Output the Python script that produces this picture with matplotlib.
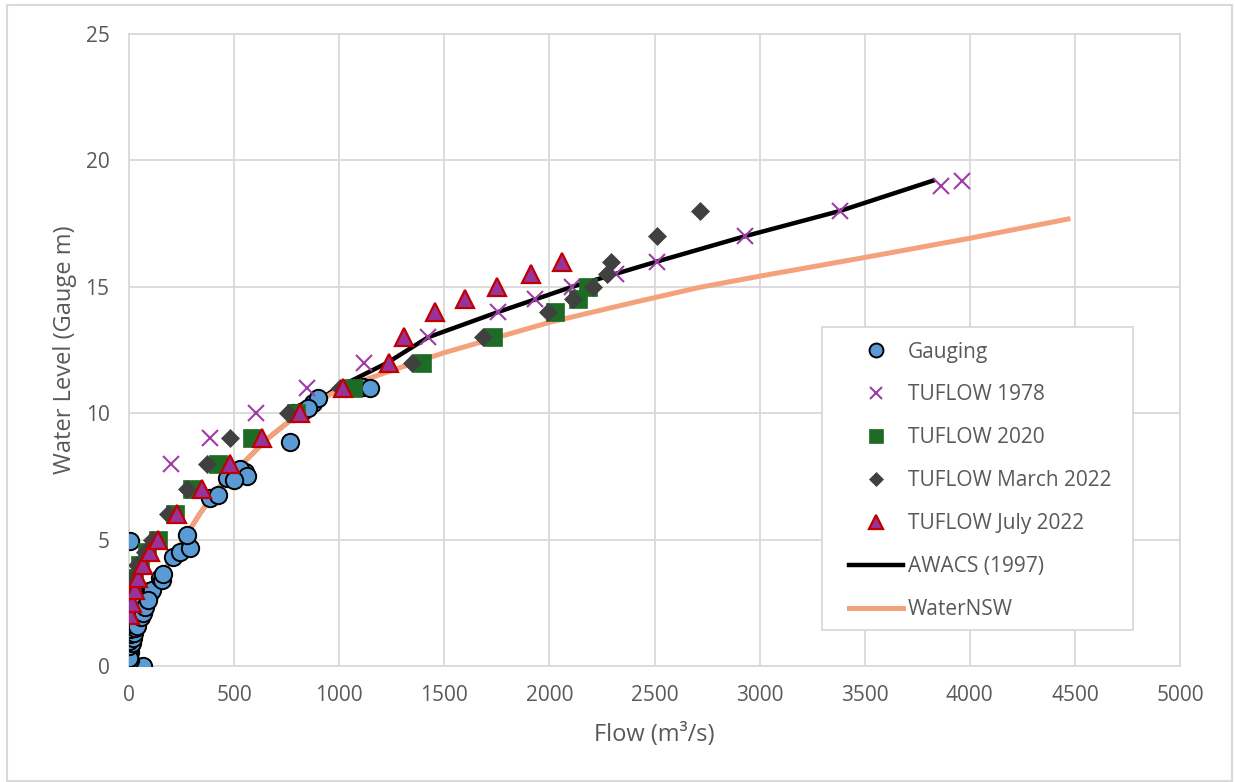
import matplotlib
matplotlib.use("Agg")
import matplotlib.pyplot as plt
from matplotlib.patches import Rectangle

plt.rcParams['font.family'] = ['Open Sans', 'DejaVu Sans']

# ---------------- data ----------------
gauging_flow = [0, 8, 25, 68, 3, 0, 5, 4, 6, 8, 10, 7, 12, 15, 18, 22, 26, 30, 35, 40,
                45, 50, 55, 62, 70, 78, 85, 95, 5,
                0, 2, 14, 0, 20, 3, 25, 5, 30, 8, 38, 12, 45, 15, 52, 20, 60, 28, 70, 35, 80, 45, 100, 110,
                40, 55, 65, 75, 90,
                147, 157, 160, 211, 242, 290, 275,
                385, 424, 465, 512, 553, 530, 560, 500,
                766, 782, 830, 877, 900, 850, 1113, 1147]
gauging_level = [0, 0, 0, 0, 0.25, 0.5, 0.55, 0.75, 0.9, 1.05, 1.2, 1.3, 1.4, 1.5, 1.6, 1.75, 1.85, 1.95, 2.05, 2.15,
                 2.25, 2.35, 2.45, 2.55, 2.65, 2.75, 2.85, 2.95, 4.95,
                 0.3, 0.8, 0.9, 1.0, 1.1, 1.25, 1.3, 1.45, 1.5, 1.65, 1.7, 1.85, 1.9, 2.05, 2.1, 2.25, 2.3, 2.45, 2.5, 2.6, 2.7, 2.75, 2.9, 3.0,
                 1.6, 1.95, 2.1, 2.35, 2.6,
                 3.5, 3.4, 3.65, 4.3, 4.5, 4.65, 5.18,
                 6.64, 6.76, 7.43, 7.55, 7.67, 7.8, 7.5, 7.35,
                 8.87, 10.0, 10.1, 10.4, 10.6, 10.2, 11.04, 11.0]

t1978_flow = [200, 385, 604, 847, 1118, 1422, 1755, 1932, 2108, 2317, 2512, 2930, 3382, 3863, 3963]
t1978_level = [8, 9, 10, 11, 12, 13, 14, 14.5, 15, 15.5, 16, 17, 18, 19, 19.2]

t2020_flow = [10, 22, 50, 85, 140, 220, 300, 425, 585, 795, 1066, 1393, 1733, 2027, 2137, 2184]
t2020_level = [3, 3.5, 4, 4.5, 5, 6, 7, 8, 9, 10, 11, 12, 13, 14, 14.5, 15]

tmar22_flow = [5, 18, 40, 75, 110, 186, 274, 371, 481, 757, 1003, 1345, 1683, 1992, 2112, 2206, 2273, 2293, 2512, 2717]
tmar22_level = [3, 3.5, 4, 4.5, 5, 6, 7, 8, 9, 10, 11, 12, 13, 14, 14.5, 15, 15.5, 16, 17, 18]

tjul22_flow = [5, 14, 29, 43, 67, 100, 138, 228, 347, 481, 631, 813, 1018, 1237, 1308, 1456, 1598, 1750, 1912, 2060]
tjul22_level = [2, 2.5, 3, 3.5, 4, 4.5, 5, 6, 7, 8, 9, 10, 11, 12, 13, 14, 14.5, 15, 15.5, 16]

awacs_flow = [0, 15, 50, 100, 185, 260, 335, 420, 540, 660, 810, 990, 1230, 1422, 1755, 2108, 2512, 2930, 3382, 3825]
awacs_level = [0, 1, 2, 3, 4, 5, 6, 7, 8, 9, 10, 11, 12, 13, 14, 15, 16, 17, 18, 19.2]

wnsw_flow = [0, 15, 50, 100, 185, 260, 335, 420, 540, 660, 810, 1010, 1289, 1494, 2003, 2400, 2716, 3000, 3500, 4000, 4467]
wnsw_level = [0, 1, 2, 3, 4, 5, 6, 7, 8, 9, 10, 11, 11.8, 12.38, 13.6, 14.38, 14.98, 15.42, 16.16, 16.92, 17.68]

x_ticks = [0, 500, 1000, 1500, 2000, 2500, 3000, 3500, 4000, 4500, 5000]
y_ticks = [0, 5, 10, 15, 20, 25]

# ---------------- figure ----------------
W, H = 1235, 782
fig = plt.figure(figsize=(W / 100, H / 100), dpi=100)
fig.patches.append(Rectangle((7 / W, 1 / H), (1232 - 7) / W, (777 - 1) / H,
                             transform=fig.transFigure, fill=False,
                             edgecolor='#D9D9D9', linewidth=1.5))
ax = fig.add_axes([129 / W, 1 - 666 / H, (1180 - 129) / W, (666 - 34) / H])

grid_c = '#D9D9D9'
txt_c = '#595959'

ax.plot(awacs_flow, awacs_level, color='black', lw=3.2, zorder=2, label='AWACS (1997)')
ax.plot(wnsw_flow, wnsw_level, color='#F4A27C', lw=3.6, zorder=2.1, label='WaterNSW')

ax.plot(gauging_flow, gauging_level, ls='none', marker='o', ms=12.5, mfc='#5B9BD5',
        mec='black', mew=1.4, zorder=3, label='Gauging')
ax.plot(t1978_flow, t1978_level, ls='none', marker='x', ms=11, mec='#A03CA8',
        mew=1.5, zorder=4, label='TUFLOW 1978')
ax.plot(t2020_flow, t2020_level, ls='none', marker='s', ms=12.5, mfc='#1E6B26',
        mec='#1E6B26', mew=0.5, zorder=5, label='TUFLOW 2020')
ax.plot(tmar22_flow, tmar22_level, ls='none', marker='D', ms=9.5, mfc='#404040',
        mec='#404040', mew=0.5, zorder=6, label='TUFLOW March 2022')
ax.plot(tjul22_flow, tjul22_level, ls='none', marker='^', ms=12.5, mfc='#993399',
        mec='#C00000', mew=1.6, zorder=7, label='TUFLOW July 2022')

ax.set_xlim(0, 5000)
ax.set_ylim(0, 25)
ax.set_xticks(x_ticks)
ax.set_yticks(y_ticks)
ax.grid(True, color=grid_c, lw=1.3, zorder=0)
ax.set_axisbelow(True)
for s in ax.spines.values():
    s.set_color(grid_c)
    s.set_linewidth(1.3)
ax.tick_params(length=0, labelsize=15, labelcolor=txt_c, pad=14)
ax.set_xlabel('Flow (m³/s)', fontsize=17, color=txt_c, labelpad=12)
ax.set_ylabel('Water Level (Gauge m)', fontsize=17, color=txt_c, labelpad=6)

# legend frame (plain rectangle) and legend contents
fig.patches.append(Rectangle((822 / W, 1 - 630 / H), (1133 - 822) / W, (630 - 327) / H,
                             transform=fig.transFigure, facecolor='white',
                             edgecolor=grid_c, linewidth=1.3, zorder=5))
handles, labels = ax.get_legend_handles_labels()
order = ['Gauging', 'TUFLOW 1978', 'TUFLOW 2020', 'TUFLOW March 2022',
         'TUFLOW July 2022', 'AWACS (1997)', 'WaterNSW']
hmap = dict(zip(labels, handles))
leg = fig.legend([hmap[k] for k in order], order, loc='upper left',
                 bbox_to_anchor=(834 / W, 1 - 327 / H), bbox_transform=fig.transFigure,
                 fontsize=15, frameon=False, borderpad=0.7,
                 handlelength=2.6, handletextpad=0.25, labelspacing=1.05,
                 markerscale=0.8, borderaxespad=0)
leg.set_zorder(6)
for t in leg.get_texts():
    t.set_color(txt_c)

fig.savefig('out.png', dpi=100)
